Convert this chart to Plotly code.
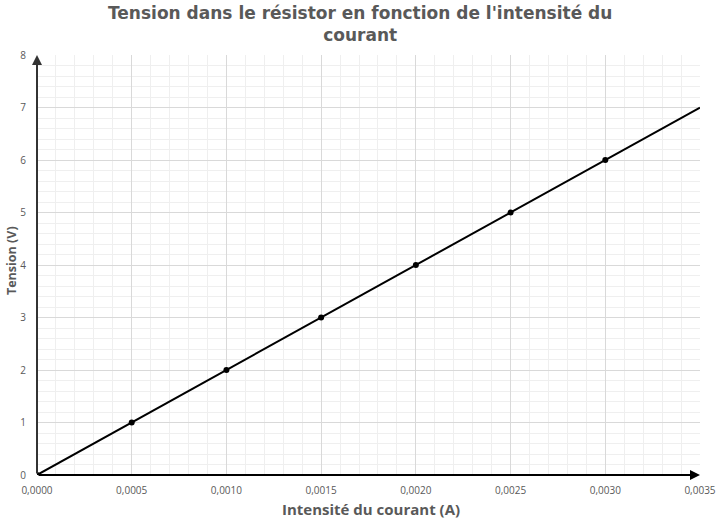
import numpy as np
import plotly.graph_objects as go

# Data
courant = [0.0, 0.0005, 0.0010, 0.0015, 0.0020, 0.0025, 0.0030]
tension = [0, 1, 2, 3, 4, 5, 6]
x_ticks = [0.0, 0.0005, 0.0010, 0.0015, 0.0020, 0.0025, 0.0030, 0.0035]
y_ticks = [0, 1, 2, 3, 4, 5, 6, 7, 8]
title_text = "Tension dans le résistor en fonction de l'intensité du<br>courant"
x_title = "Intensité du courant (A)"
y_title = "Tension (V)"

# Linear trend line (fitted from data), extended to the axis end
slope, intercept = np.polyfit(courant, tension, 1)
trend_x = [0.0, 0.0035]
trend_y = [slope * v + intercept for v in trend_x]

GRAY = "#595959"
FONT = "Open Sans"
TFONT = "DejaVu Sans"
W, H = 720, 519
ML, MR, MT, MB = 37, 20, 55, 44
PW, PH = W - ML - MR, H - MT - MB

def px_x(px):
    return (px - ML) / PW

def px_y(py):
    return (H - MB - py) / PH

fig = go.Figure()
fig.add_trace(go.Scatter(x=trend_x, y=trend_y, mode="lines",
                         line=dict(color="black", width=2), hoverinfo="skip",
                         showlegend=False))
fig.add_trace(go.Scatter(x=courant, y=tension, mode="markers",
                         marker=dict(color="black", size=6),
                         showlegend=False))

# Axis lines with arrows
fig.add_annotation(x=0.0035, y=0, ax=0, ay=0, xref="x", yref="y", axref="x", ayref="y",
                   showarrow=True, arrowhead=2, arrowsize=1, arrowwidth=2,
                   arrowcolor="black", text="")
fig.add_annotation(x=0, y=8, ax=0, ay=0, xref="x", yref="y", axref="x", ayref="y",
                   showarrow=True, arrowhead=2, arrowsize=1, arrowwidth=2,
                   arrowcolor="#333333", text="")

# Title (two lines in one text)
fig.add_annotation(text="<b>" + title_text + "</b>", xref="paper", yref="paper",
                   x=px_x(360), y=px_y(1), xanchor="center", yanchor="top",
                   showarrow=False,
                   font=dict(family=TFONT, size=17, color=GRAY))
# Axis titles
fig.add_annotation(text="<b>" + x_title + "</b>", xref="paper", yref="paper",
                   x=px_x(371), y=px_y(509), xanchor="center", yanchor="middle",
                   showarrow=False, font=dict(family=FONT, size=15, color=GRAY))
fig.add_annotation(text="<b>" + y_title + "</b>", xref="paper", yref="paper",
                   x=px_x(11), y=px_y(261), xanchor="center", yanchor="middle",
                   textangle=-90, showarrow=False,
                   font=dict(family=FONT, size=12.5, color=GRAY))

fig.update_layout(
    width=W, height=H,
    margin=dict(l=ML, r=MR, t=MT, b=MB, autoexpand=False),
    paper_bgcolor="white", plot_bgcolor="white",
    separators=", ",
    font=dict(family=FONT, color=GRAY, size=10),
)
fig.update_xaxes(
    range=[0, 0.0035], tickvals=x_ticks, tickformat=".4f", automargin=False,
    showgrid=True, gridcolor="#d9d9d9", gridwidth=1,
    minor=dict(dtick=0.0001, showgrid=True, gridcolor="#efefef", gridwidth=1),
    zeroline=False, showline=False, ticks="", ticklabelstandoff=8,
    tickfont=dict(family=FONT, size=10, color=GRAY),
)
fig.update_yaxes(
    range=[0, 8], tickvals=y_ticks, automargin=False,
    showgrid=True, gridcolor="#d9d9d9", gridwidth=1,
    minor=dict(dtick=0.2, showgrid=True, gridcolor="#efefef", gridwidth=1),
    zeroline=False, showline=False, ticks="", ticklabelstandoff=10,
    tickfont=dict(family=FONT, size=10, color=GRAY),
)

fig.write_html(
    "out.html",
    config={"displayModeBar": False},
    post_script="document.body.style.margin='0';document.body.style.overflow='hidden';",
)
